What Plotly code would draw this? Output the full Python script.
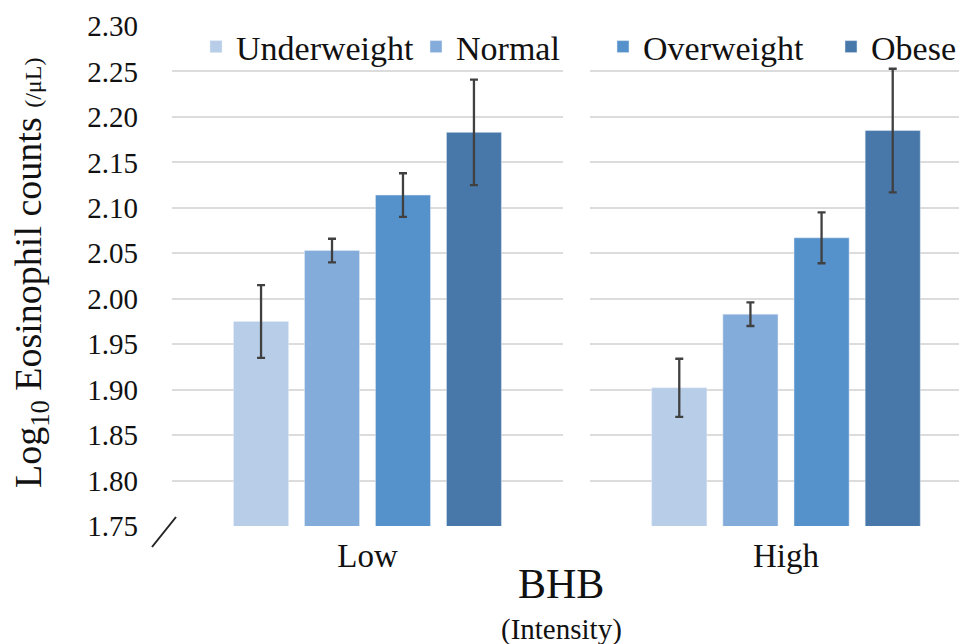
import plotly.graph_objects as go

groups = ["Low", "High"]
series = ["Underweight", "Normal", "Overweight", "Obese"]
colors = ["#b7cde8", "#84acda", "#5591ca", "#4878aa"]
low_vals = [1.975, 2.053, 2.114, 2.183]
low_err = [0.040, 0.013, 0.024, 0.058]
high_vals = [1.902, 1.983, 2.067, 2.185]
high_err = [0.032, 0.013, 0.028, 0.068]
y_ticks = [1.75, 1.80, 1.85, 1.90, 1.95, 2.00, 2.05, 2.10, 2.15, 2.20, 2.25, 2.30]

# page body has an 8px margin; figure is sized/placed to compensate
OFF = 8
W, H = 967 - OFF, 644 - OFF
FONT = "Liberation Serif"
ERR = "#404040"


def px(xp):
    return (xp - OFF) / W


def py(yp):
    return (526 - yp) / 500.0


legend_ids = ["legend", "legend2", "legend3", "legend4"]
legend_x = [196, 416, 603, 831]

fig = go.Figure()

for i, s in enumerate(series):
    fig.add_trace(go.Bar(
        x=[groups[0]], y=[low_vals[i]], name=s, marker_color=colors[i],
        error_y=dict(type="data", array=[low_err[i]], color=ERR, thickness=2.3, width=4),
        xaxis="x", yaxis="y", legend=legend_ids[i], showlegend=True))
    fig.add_trace(go.Bar(
        x=[groups[1]], y=[high_vals[i]], name=s, marker_color=colors[i],
        error_y=dict(type="data", array=[high_err[i]], color=ERR, thickness=2.3, width=4),
        xaxis="x2", yaxis="y2", showlegend=False))

x1 = [px(172), px(563)]
x2 = [px(590), 1.0]
r2 = [-0.5, -0.5 + (967 - 590) / 392.0]

legends = {}
for lid, lx in zip(legend_ids, legend_x):
    legends[lid] = dict(orientation="h", x=px(lx), xanchor="left", y=py(47), yanchor="middle",
                        font=dict(size=34, family=FONT), bgcolor="rgba(0,0,0,0)")

fig.update_layout(
    width=W, height=H,
    margin=dict(l=0, r=0, t=26 - OFF, b=118, autoexpand=False),
    paper_bgcolor="white", plot_bgcolor="white",
    barmode="group", bargap=0.274, bargroupgap=0.225,
    font=dict(family=FONT, color="#111111"),
    xaxis=dict(domain=x1, type="category", range=[-0.5, 0.5], showline=False, ticks="",
               tickfont=dict(size=33, family=FONT), showgrid=False, ticklabelstandoff=7),
    xaxis2=dict(domain=x2, type="category", range=r2, showline=False, ticks="",
                tickfont=dict(size=33, family=FONT), showgrid=False, anchor="y2",
                ticklabelstandoff=7),
    yaxis=dict(range=[1.75, 2.30], tickvals=y_ticks, tickformat=".2f",
               showgrid=True, gridcolor="#dcdcdc", gridwidth=1.5, zeroline=False,
               showline=False, ticks="", tickfont=dict(size=29, family=FONT, color="#111111"),
               ticklabelstandoff=33),
    yaxis2=dict(matches="y", anchor="x2", range=[1.75, 2.30], tickvals=y_ticks,
                showticklabels=False, showgrid=True, gridcolor="#dcdcdc", gridwidth=1.5,
                zeroline=False, showline=False, ticks=""),
    showlegend=True,
    **legends,
)

fig.add_annotation(text="BHB", xref="paper", yref="paper", x=px(561), y=py(584),
                   showarrow=False, font=dict(size=42, family=FONT), xanchor="center", yanchor="middle")
fig.add_annotation(text="(Intensity)", xref="paper", yref="paper", x=px(561), y=py(629),
                   showarrow=False, font=dict(size=29, family=FONT), xanchor="center", yanchor="middle")
fig.add_annotation(text="Log<sub>10</sub> Eosinophil counts <span style='font-size:24px'>(/μL)</span>",
                   xref="paper", yref="paper", x=px(31), y=py(273), textangle=-90,
                   showarrow=False, font=dict(size=38, family=FONT), xanchor="center", yanchor="middle")
fig.add_shape(type="line", xref="paper", yref="paper", x0=px(152), y0=py(547),
              x1=px(176), y1=py(517), line=dict(color="#222222", width=2))

fig.write_html("out.html", config={"displayModeBar": False})
